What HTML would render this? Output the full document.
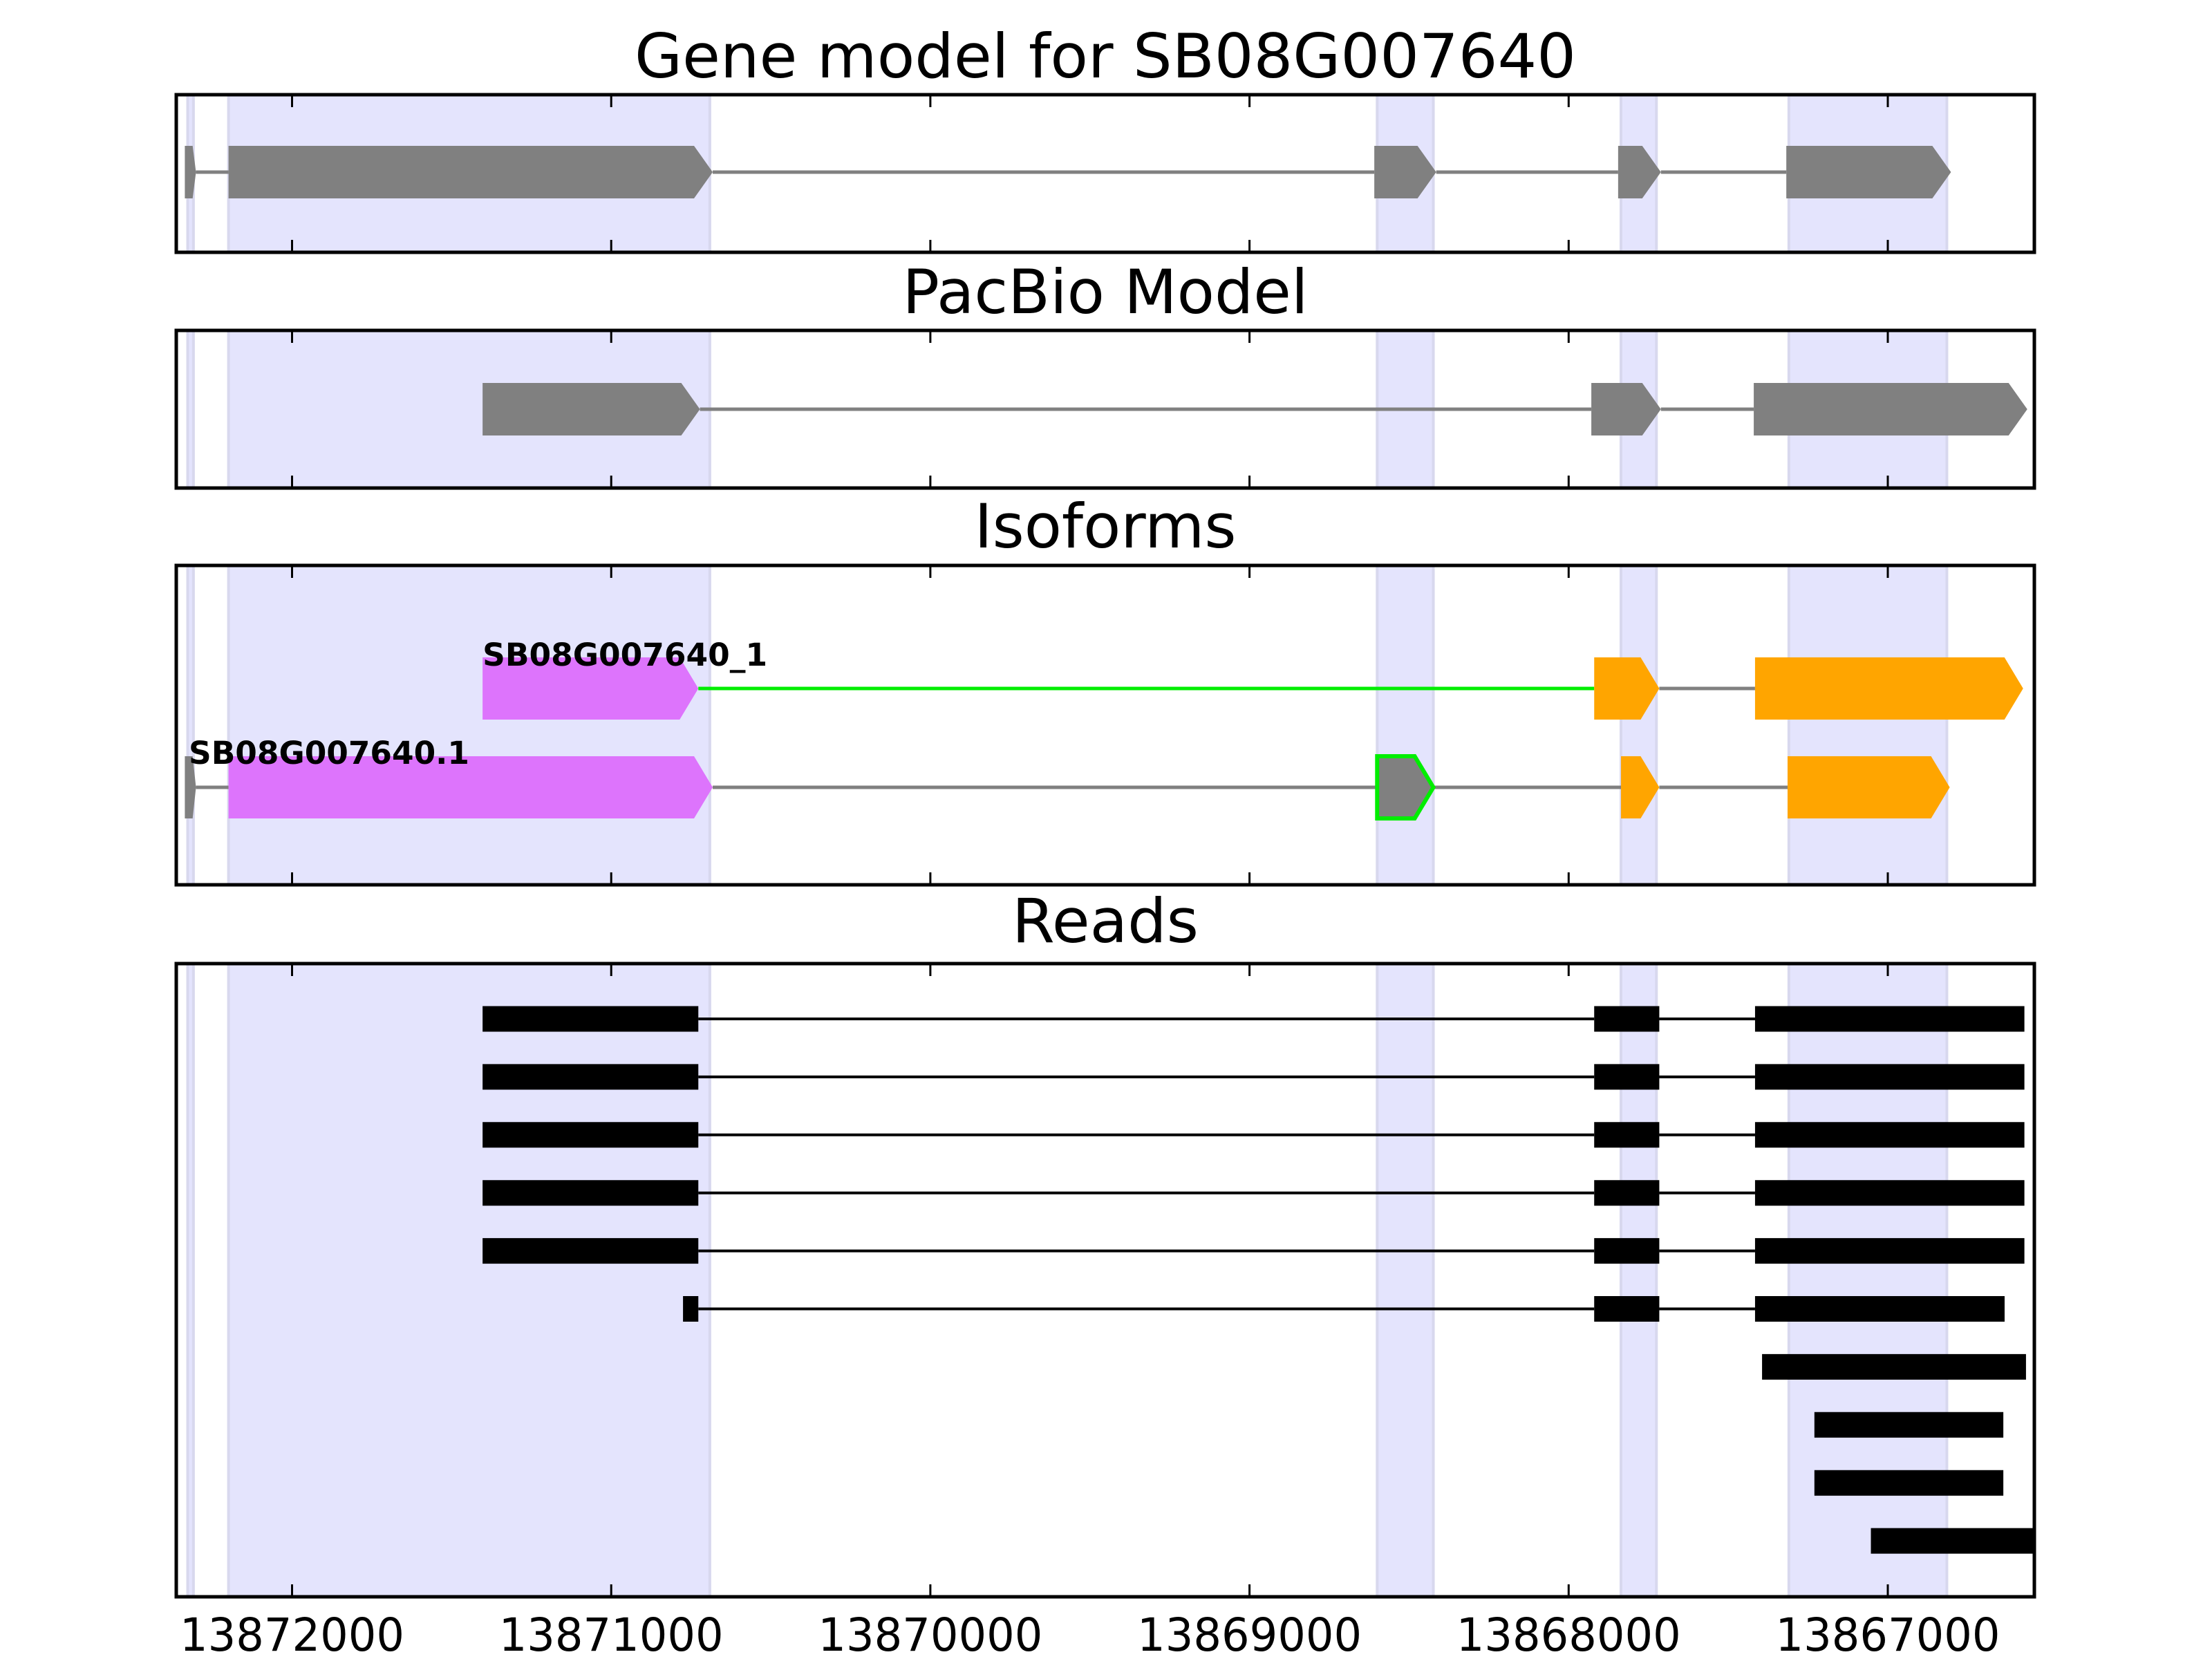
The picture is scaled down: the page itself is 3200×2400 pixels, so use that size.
<!DOCTYPE html>
<html><head><meta charset="utf-8"><style>
html,body{margin:0;padding:0;background:#fff}
svg{display:block}
text{font-family:"DejaVu Sans","Liberation Sans",sans-serif}
</style></head><body>
<svg id="chart" width="3200" height="2400" viewBox="0 0 3200 2400" xmlns="http://www.w3.org/2000/svg"></svg>
<script>
// ---- data ----
const tickValues = [13872000, 13871000, 13870000, 13869000, 13868000, 13867000];
const tickLabels = ["13872000","13871000","13870000","13869000","13868000","13867000"];
const shadeStarts = [13872327, 13872199, 13868600, 13867836, 13867310];
const shadeEnds   = [13872309, 13870691, 13868424, 13867725, 13866815];
const geneExonStarts = [13872336, 13872199, 13868609, 13867845, 13867318];
const geneExonEnds   = [13872301, 13870682, 13868415, 13867711, 13866802];
const pacbioExonStarts = [13871403, 13867929, 13867420];
const pacbioExonEnds   = [13870722, 13867711, 13866563];
const iso1Starts = [13871403, 13867920, 13867416];
const iso1Ends   = [13870727, 13867716, 13866576];
const iso1Colors = ["#dd74fc", "#ffa500", "#ffa500"];
const iso1Introns = ["#00ee00", "#808080"];
const iso2Starts = [13872336, 13872199, 13868600, 13867836, 13867314];
const iso2Ends   = [13872301, 13870682, 13868424, 13867716, 13866806];
const iso2Colors = ["#808080", "#dd74fc", "#808080", "#ffa500", "#ffa500"];
const iso2Outline = [false, false, true, false, false];
const isoLabels = ["SB08G007640_1", "SB08G007640.1"];
const readStarts = [
  [13871403, 13867920, 13867416],
  [13871403, 13867920, 13867416],
  [13871403, 13867920, 13867416],
  [13871403, 13867920, 13867416],
  [13871403, 13867920, 13867416],
  [13870775, 13867920, 13867416],
  [13867394],
  [13867230],
  [13867230],
  [13867053]
];
const readEnds = [
  [13870727, 13867716, 13866572],
  [13870727, 13867716, 13866572],
  [13870727, 13867716, 13866572],
  [13870727, 13867716, 13866572],
  [13870727, 13867716, 13866572],
  [13870727, 13867716, 13866634],
  [13866567],
  [13866638],
  [13866638],
  [13866500]
];

// ---- layout ----
const NS = "http://www.w3.org/2000/svg";
const svg = document.getElementById("chart");
const AX_L = 255, AX_R = 2943;
const BP0 = 13872000, PXPB = 0.4617, X0 = 422.5;
function xs(bp){ return X0 + (BP0 - bp) * PXPB; }
function mk(tag, attrs, parent){
  const e = document.createElementNS(NS, tag);
  for (const k in attrs) e.setAttribute(k, attrs[k]);
  (parent || svg).appendChild(e);
  return e;
}
const panels = [
  {name:"gene-model-panel", top:137, bot:365, title:"Gene model for SB08G007640", ty:112, tw:1362},
  {name:"pacbio-model-panel", top:478, bot:706, title:"PacBio Model", ty:453, tw:587},
  {name:"isoforms-panel", top:818, bot:1280, title:"Isoforms", ty:792, tw:379},
  {name:"reads-panel", top:1394, bot:2310, title:"Reads", ty:1363, tw:270}
];
const defs = mk("defs", {});
panels.forEach((p, i) => {
  const cp = mk("clipPath", {id:"clip"+i}, defs);
  mk("rect", {x:AX_L, y:p.top, width:AX_R-AX_L, height:p.bot-p.top}, cp);
});

function exonShape(g, s, e, cy, h, fill, arrow, stroke){
  const x1 = xs(s), x2 = xs(e);
  const w = x2 - x1;
  let pts;
  if (arrow && w > 40) {
    const a = Math.min(27, w * 0.6);
    pts = [[x1, cy-h/2],[x2-a, cy-h/2],[x2, cy],[x2-a, cy+h/2],[x1, cy+h/2]];
  } else if (arrow) {
    pts = [[x1, cy-h/2],[x2-w*0.3, cy-h/2],[x2, cy],[x2-w*0.3, cy+h/2],[x1, cy+h/2]];
  } else {
    pts = [[x1, cy-h/2],[x2, cy-h/2],[x2, cy+h/2],[x1, cy+h/2]];
  }
  const el = mk("polygon", {points: pts.map(p=>p.join(",")).join(" "), fill: fill,
    stroke: stroke || "none", "stroke-width": stroke ? 6 : 0}, g);
  return el;
}
function intron(g, a, b, cy, color, w){
  const el = mk("line", {x1:xs(a), x2:xs(b), y1:cy, y2:cy, stroke:color, "stroke-width":w}, g);
  return el;
}

panels.forEach((p, i) => {
  const g = mk("g", {"clip-path":"url(#clip"+i+")"});
  
  
  for (let k = 0; k < shadeStarts.length; k++) {
    const r = mk("rect", {x:xs(shadeStarts[k]), y:p.top, width:xs(shadeEnds[k])-xs(shadeStarts[k]),
      height:p.bot-p.top, fill:"#e4e4fd", stroke:"#d8d8ee", "stroke-width":4}, g);
    
    
  }
  tickValues.forEach(v => {
    const t1 = mk("line", {x1:xs(v), x2:xs(v), y1:p.top, y2:p.top+18, stroke:"#000", "stroke-width":3}, g);
    
    
    const t2 = mk("line", {x1:xs(v), x2:xs(v), y1:p.bot-18, y2:p.bot, stroke:"#000", "stroke-width":3}, g);
    
    
  });
  p.g = g;
  const t = mk("text", {x:(AX_L+AX_R)/2, y:p.ty, "text-anchor":"middle", "font-size":88,
    textLength:p.tw, lengthAdjust:"spacingAndGlyphs", fill:"#000"});
  t.textContent = p.title;
  
  
});

(function(){
  const g = panels[0].g, cy = 249, h = 76;
  for (let k = 0; k < geneExonStarts.length - 1; k++) {
    const l = intron(g, geneExonEnds[k], geneExonStarts[k+1], cy, "#808080", 5);
    
    
  }
  for (let k = 0; k < geneExonStarts.length; k++) {
    const e = exonShape(g, geneExonStarts[k], geneExonEnds[k], cy, h, "#808080", true);
    
    
  }
})();
(function(){
  const g = panels[1].g, cy = 592, h = 76;
  for (let k = 0; k < pacbioExonStarts.length - 1; k++) {
    const l = intron(g, pacbioExonEnds[k], pacbioExonStarts[k+1], cy, "#808080", 5);
    
    
  }
  for (let k = 0; k < pacbioExonStarts.length; k++) {
    const e = exonShape(g, pacbioExonStarts[k], pacbioExonEnds[k], cy, h, "#808080", true);
    
    
  }
})();
(function(){
  const g = panels[2].g, h = 90;
  let cy = 996;
  for (let k = 0; k < iso1Starts.length - 1; k++) {
    const l = intron(g, iso1Ends[k], iso1Starts[k+1], cy, iso1Introns[k], 5);
    
    
  }
  for (let k = 0; k < iso1Starts.length; k++) {
    const e = exonShape(g, iso1Starts[k], iso1Ends[k], cy, h, iso1Colors[k], true);
    
    
  }
  cy = 1139;
  for (let k = 0; k < iso2Starts.length - 1; k++) {
    const l = intron(g, iso2Ends[k], iso2Starts[k+1], cy, "#808080", 5);
    
    
  }
  for (let k = 0; k < iso2Starts.length; k++) {
    const e = exonShape(g, iso2Starts[k], iso2Ends[k], cy, h, iso2Colors[k], true, iso2Outline[k] ? "#00ee00" : null);
    
    
  }
  const l1 = mk("text", {x:xs(iso1Starts[0]), y:963, "font-size":45, "font-weight":"bold",
    textLength:412, lengthAdjust:"spacingAndGlyphs"});
  l1.textContent = isoLabels[0];
  
  
  const l2 = mk("text", {x:273, y:1105, "font-size":45, "font-weight":"bold",
    textLength:406, lengthAdjust:"spacingAndGlyphs"});
  l2.textContent = isoLabels[1];
  
  
})();
(function(){
  const g = panels[3].g, h = 37;
  for (let r = 0; r < readStarts.length; r++) {
    const cy = 1474 + r * 83.9;
    const s = readStarts[r], e = readEnds[r];
    for (let k = 0; k < s.length - 1; k++) {
      const l = intron(g, e[k], s[k+1], cy, "#000", 4);
      
      
    }
    for (let k = 0; k < s.length; k++) {
      const b = exonShape(g, s[k], e[k], cy, h, "#000", false);
      
      
    }
  }
})();
panels.forEach(p => {
  const f = mk("rect", {x:AX_L, y:p.top, width:AX_R-AX_L, height:p.bot-p.top, fill:"none", stroke:"#000", "stroke-width":5});
  
  
});
tickValues.forEach((v, i) => {
  const t = mk("text", {x:xs(v), y:2388, "text-anchor":"middle", "font-size":66,
    textLength:325, lengthAdjust:"spacingAndGlyphs"});
  t.textContent = tickLabels[i];
  
  
});
</script>
</body></html>
